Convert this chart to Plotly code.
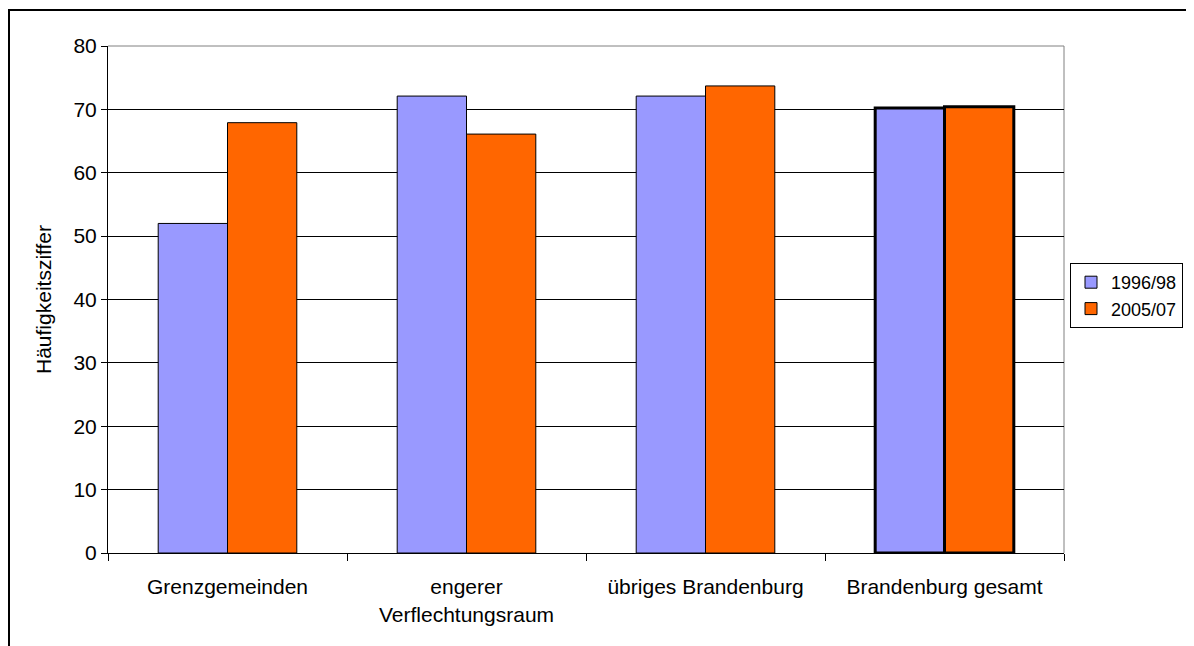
import plotly.graph_objects as go

categories = ["Grenzgemeinden", "engerer<br>Verflechtungsraum", "übriges Brandenburg", "Brandenburg gesamt"]
series_names = ["1996/98", "2005/07"]
values_1996 = [52.0, 72.1, 72.1, 70.2]
values_2005 = [67.9, 66.1, 73.7, 70.4]
y_ticks = [0, 10, 20, 30, 40, 50, 60, 70, 80]

colors = ["#9999FF", "#FF6600"]
line_widths = [1, 1, 1, 3]

# page has an 8px body margin; figure coordinates = page - 8
OFF = 8
W, H = 1194 - OFF, 646 - OFF
L, R, T, B = 108 - OFF, 1064 - OFF, 46 - OFF, 553 - OFF

fig = go.Figure()
for name, vals, col in zip(series_names, [values_1996, values_2005], colors):
    fig.add_trace(go.Bar(
        x=categories, y=vals, name=name,
        marker=dict(color=col, line=dict(color="black", width=line_widths)),
    ))

def px_x(px):
    return (px - OFF - L) / (R - L)

def px_y(py):
    return (B - (py - OFF)) / (B - T)

fig.update_layout(
    width=W, height=H,
    margin=dict(l=L, r=W - R, t=T, b=H - B, autoexpand=False),
    paper_bgcolor="white", plot_bgcolor="white",
    barmode="group", bargap=0.42, bargroupgap=0,
    font=dict(family="Liberation Sans, Arial, sans-serif", size=21, color="black"),
    showlegend=True,
    legend=dict(
        x=px_x(1070), y=px_y(263), xanchor="left", yanchor="top",
        bordercolor="black", borderwidth=1, bgcolor="white",
        font=dict(size=18), itemwidth=30, tracegroupgap=0,
    ),
    xaxis=dict(
        showline=True, linecolor="black", linewidth=1,
        ticks="outside", ticklen=7, tickcolor="black", tickson="boundaries",
        tickfont=dict(size=21), ticklabelstandoff=15,
        showgrid=False, zeroline=False,
    ),
    yaxis=dict(
        range=[0, 80], tickvals=y_ticks,
        showline=True, linecolor="black", linewidth=1,
        ticks="outside", ticklen=6, tickcolor="black",
        showgrid=True, gridcolor="black", gridwidth=1,
        zeroline=False, tickfont=dict(size=21),
        title=dict(text="Häufigkeitsziffer", font=dict(size=21), standoff=16),
    ),
    shapes=[
        dict(type="line", xref="paper", yref="paper", x0=0, x1=1, y0=1, y1=1,
             line=dict(color="#808080", width=1), layer="below"),
        dict(type="line", xref="paper", yref="paper", x0=1, x1=1, y0=0, y1=1,
             line=dict(color="#808080", width=1), layer="below"),
        dict(type="rect", xref="paper", yref="paper",
             x0=px_x(9), x1=px_x(1215), y0=px_y(10), y1=px_y(680),
             line=dict(color="black", width=2), fillcolor="rgba(0,0,0,0)"),
    ],
)

fig.write_html("out.html")
